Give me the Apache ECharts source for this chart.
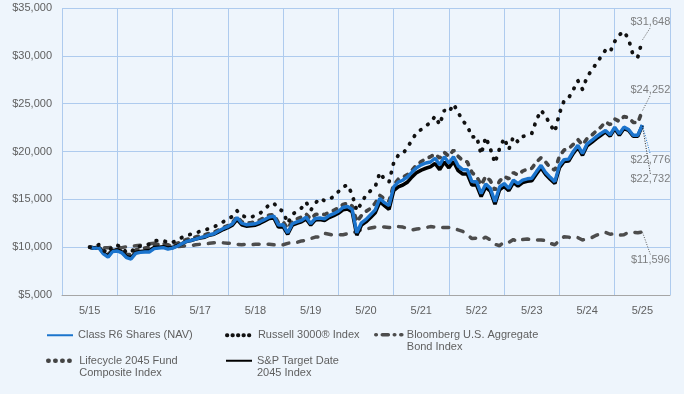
<!DOCTYPE html>
<html><head><meta charset="utf-8">
<script src="https://cdn.jsdelivr.net/npm/echarts@6/dist/echarts.min.js"></script>
<style>html,body{margin:0;padding:0;background:#eef5fc}#c{width:684px;height:394px}</style>
</head><body><div id="c"></div>
<script>
// Tick labels (one per fiscal year, May)
const xLabels = ['5/15','5/16','5/17','5/18','5/19','5/20','5/21','5/22','5/23','5/24','5/25'];
// Series names
const nameR6 = 'Class R6 Shares (NAV)';
const nameRU = 'Russell 3000\u00ae Index';
const nameBB = 'Bloomberg U.S. Aggregate Bond Index';
const nameLC = 'Lifecycle 2045 Fund Composite Index';
const nameSP = 'S&P Target Date 2045 Index';
// Monthly values, May 2015 .. May 2025 (121 points), growth of $10,000
const classR6 = [
10000, 9880, 9950, 9300, 8950, 9550, 9600, 9400, 8900, 8760, 9350, 9450,
9500, 9500, 9850, 9900, 9950, 9800, 9900, 10100, 10350, 10600, 10700, 10850,
11000, 11100, 11300, 11400, 11700, 11950, 12150, 12450, 13100, 12500, 12350, 12400,
12450, 12650, 12900, 13150, 13250, 12300, 12350, 11500, 12450, 12650, 12800, 13150,
12450, 13000, 13050, 12950, 13300, 13500, 13750, 14150, 14250, 13950, 11500, 12550,
12900, 13400, 13900, 15100, 14650, 14350, 16300, 16800, 17000, 17350, 17850, 18300,
18600, 18800, 18900, 19300, 18600, 19450, 18800, 19450, 18500, 18100, 18100, 16850,
16850, 15600, 16600, 16150, 14750, 16300, 16650, 16150, 17000, 16650, 17000, 17150,
17200, 17900, 18550, 17800, 17300, 16850, 18550, 19150, 19200, 20000, 20650, 19800,
20800, 21150, 21550, 21900, 22200, 21750, 22550, 21850, 22550, 22300, 21700, 21700,
22776];
const russell3000 = [
10000, 10050, 10250, 9650, 9400, 10150, 10200, 9950, 9450, 9450, 10050, 10100,
10250, 10300, 10650, 10700, 10700, 10450, 10500, 10750, 11000, 11250, 11350, 11500,
11650, 11800, 11950, 12100, 12400, 12650, 12950, 13200, 13800, 13300, 13150, 13100,
13350, 13550, 13950, 14450, 14600, 14000, 13750, 12500, 13400, 13800, 14100, 14700,
13850, 14600, 15100, 14850, 15000, 15300, 15800, 16300, 16500, 15500, 13800, 14600,
15450, 15900, 16300, 17800, 17100, 16800, 18800, 19600, 19750, 20450, 21200, 22000,
22300, 22700, 23000, 23700, 22800, 24300, 24100, 24950, 24100, 23200, 22700, 21500,
21600, 19700, 21500, 20300, 18800, 20300, 21400, 20200, 21550, 21000, 21550, 21750,
21900, 23300, 24300, 23700, 22800, 22050, 24000, 25300, 25600, 26450, 27400, 26500,
27800, 28500, 29200, 29900, 30600, 30400, 31500, 32200, 32550, 31750, 30050, 29850,
31648];
const bloombergAgg = [
10000, 9950, 10000, 9950, 9950, 10000, 9950, 9950, 10050, 10100, 10150, 10200,
10200, 10350, 10400, 10400, 10350, 10250, 10050, 10050, 10100, 10150, 10150, 10250,
10300, 10350, 10400, 10450, 10450, 10450, 10400, 10400, 10300, 10250, 10300, 10250,
10300, 10300, 10300, 10300, 10250, 10200, 10250, 10400, 10500, 10500, 10650, 10700,
10900, 11050, 11050, 11450, 11350, 11250, 11300, 11300, 11400, 11600, 11550, 11850,
11900, 12000, 12100, 12150, 12100, 12050, 12150, 12150, 12100, 11950, 11800, 11900,
11950, 12050, 12150, 12100, 12050, 12050, 12050, 12000, 11800, 11650, 11300, 10900,
10950, 10800, 11050, 10750, 10300, 10150, 10550, 10500, 10800, 10550, 10800, 10850,
10750, 10750, 10750, 10700, 10400, 10250, 10700, 11100, 11050, 10900, 11000, 10750,
10900, 11000, 11250, 11400, 11550, 11350, 11400, 11250, 11300, 11550, 11550, 11500,
11596];
const lifecycle2045 = [
10000, 9900, 9980, 9500, 9250, 9700, 9750, 9600, 9250, 9200, 9700, 9850,
9900, 10000, 10250, 10300, 10350, 10200, 10250, 10400, 10600, 10800, 10900, 11050,
11200, 11300, 11450, 11550, 11800, 12050, 12250, 12550, 13200, 12650, 12500, 12550,
12650, 12850, 13100, 13350, 13400, 12550, 12650, 11950, 12750, 12950, 13150, 13450,
12950, 13400, 13500, 13400, 13650, 13850, 14100, 14450, 14600, 14300, 12650, 13300,
13750, 14050, 14600, 15400, 15050, 14800, 16500, 17100, 17300, 17600, 18050, 18600,
18950, 19250, 19450, 19750, 19300, 19900, 19500, 20150, 19500, 19050, 18900, 17800,
17400, 16500, 17400, 16950, 15950, 16900, 17400, 17150, 17800, 17550, 17950, 18150,
18250, 18900, 19350, 18900, 18300, 18050, 19500, 20150, 20300, 20750, 21250, 20700,
21350, 21700, 22150, 22550, 23100, 22800, 23400, 23150, 23650, 23550, 23050, 23000,
24252];
const spTarget2045 = [
10000, 9900, 9980, 9400, 9050, 9650, 9700, 9500, 9000, 8900, 9450, 9550,
9600, 9650, 9950, 10000, 10050, 9900, 9950, 10150, 10350, 10600, 10700, 10850,
10950, 11050, 11250, 11350, 11600, 11850, 12050, 12300, 12900, 12350, 12200, 12250,
12300, 12500, 12750, 13000, 13050, 12100, 12150, 11350, 12300, 12500, 12650, 12950,
12300, 12850, 12900, 12800, 13100, 13300, 13550, 13900, 14000, 13700, 11250, 12300,
12650, 13100, 13600, 14750, 14350, 13950, 15900, 16300, 16500, 16800, 17350, 17800,
18050, 18250, 18400, 18750, 18100, 18900, 18300, 18950, 18000, 17650, 17650, 16500,
16500, 15300, 16300, 15850, 14500, 16000, 16350, 15900, 16750, 16400, 16750, 16900,
16950, 17650, 18300, 17600, 17100, 16650, 18300, 18950, 19000, 19800, 20450, 19600,
20600, 20950, 21350, 21700, 22050, 21600, 22400, 21700, 22400, 22200, 21600, 21600,
22732];

const chart = echarts.init(document.getElementById('c'), null, {renderer: 'canvas'});
const pts = arr => arr.map((v, i) => [i, v]);
const fmt = v => '$' + Number(v).toLocaleString('en-US');
const baseFont = "'Liberation Sans', Arial, sans-serif";
const labelGray = '#5f5f5f';

const C_BLUE = '#1b74cd', C_BLACK = '#000000', C_RU = '#111111', C_LC = '#444444', C_BB = '#4d4d4d';

function lineSeries(name, arr, style, z) {
  return {
    name, type: 'line', xAxisIndex: 1, yAxisIndex: 0,
    data: pts(arr), symbol: 'none', showSymbol: false, smooth: false,
    lineStyle: style, z: z, silent: true
  };
}

// end-of-line value labels (last value of each series)
const lastIdx = classR6.length - 1;
const endSeries = [
  {arr: russell3000, color: '#555', off: {dx: 8, dy: -18}},
  {arr: lifecycle2045, color: '#555', off: {dx: 8, dy: -21}},
  {arr: classR6, color: C_BLUE, off: {dx: 8, dy: 35}},
  {arr: spTarget2045, color: '#222', off: {dx: 8, dy: 54}},
  {arr: bloombergAgg, color: '#555', off: {dx: 8, dy: 28}}
];

const legendCommon = {
  orient: 'horizontal', padding: 0, itemWidth: 26, itemHeight: 10, itemGap: 0,
  selectedMode: false,
  itemStyle: {opacity: 0},
  textStyle: {color: labelGray, fontSize: 11, fontFamily: baseFont, lineHeight: 12.5}
};
function legend(name, left, top, lineStyle, text) {
  const d = {name: name, itemStyle: {opacity: 0}};
  if (lineStyle) d.lineStyle = lineStyle;
  return Object.assign({}, legendCommon, {left, top, data: [d], formatter: () => text});
}

const option = {
  animation: false,
  backgroundColor: '#eef5fc',
  grid: {left: 62, right: 14, top: 8, bottom: 99, containLabel: false},
  xAxis: [
    {
      type: 'category', data: xLabels, boundaryGap: true, gridIndex: 0,
      axisLine: {show: true, lineStyle: {color: '#a6a6a6', width: 1}},
      axisTick: {show: false},
      axisLabel: {color: labelGray, fontSize: 11, fontFamily: baseFont, margin: 10},
      splitLine: {show: true, lineStyle: {color: '#aecbee', width: 1}}
    },
    {
      type: 'value', min: -6, max: 126, show: false, gridIndex: 0,
      splitLine: {show: false}
    }
  ],
  yAxis: {
    type: 'value', min: 5000, max: 35000, interval: 5000,
    axisLine: {show: false}, axisTick: {show: false},
    axisLabel: {color: labelGray, fontSize: 11, fontFamily: baseFont, margin: 10, formatter: fmt},
    splitLine: {show: true, lineStyle: {color: '#aecbee', width: 1}}
  },
  legend: [
    legend(nameR6, 46, 329, null, 'Class R6 Shares (NAV)'),
    legend(nameRU, 225, 329, {type: [0.5, 5], cap: 'round', width: 3.8}, 'Russell 3000\u00ae Index'),
    legend(nameBB, 374, 316, {type: [0.5, 6, 6, 6], cap: 'round', width: 3.6}, ' \nBloomberg U.S. Aggregate\nBond Index'),
    legend(nameLC, 46, 342, {type: [0.5, 6.5], cap: 'round', width: 4.4}, ' \nLifecycle 2045 Fund\nComposite Index'),
    legend(nameSP, 225, 342, null, ' \nS&P Target Date\n2045 Index')
  ],
  series: [
    lineSeries(nameBB, bloombergAgg, {color: C_BB, width: 3.5, type: [6, 9], cap: 'round'}, 2),
    lineSeries(nameLC, lifecycle2045, {color: C_LC, width: 3.7, type: [3.5, 7], cap: 'round'}, 3),
    lineSeries(nameSP, spTarget2045, {color: C_BLACK, width: 3.6}, 4),
    lineSeries(nameR6, classR6, {color: C_BLUE, width: 3.4}, 5),
    lineSeries(nameRU, russell3000, {color: C_RU, width: 3.8, type: [0.5, 8.5], cap: 'round'}, 6),
    {
      name: 'endLabels', type: 'scatter', xAxisIndex: 1, yAxisIndex: 0, z: 10, silent: true,
      symbolSize: 1, itemStyle: {color: 'rgba(0,0,0,0)'},
      data: endSeries.map(e => ({
        value: [lastIdx, e.arr[lastIdx]],
        labelLine: {show: true, lineStyle: {color: e.color, width: 1, type: [1, 1.5]}}
      })),
      label: {show: true, position: 'inside', color: labelGray, fontSize: 11, fontFamily: baseFont,
        formatter: p => fmt(p.value[1])},
      labelLine: {show: true, smooth: false, length2: 0},
      labelLayout: p => endSeries[p.dataIndex].off
    }
  ]
};
chart.setOption(option);
</script></body></html>
